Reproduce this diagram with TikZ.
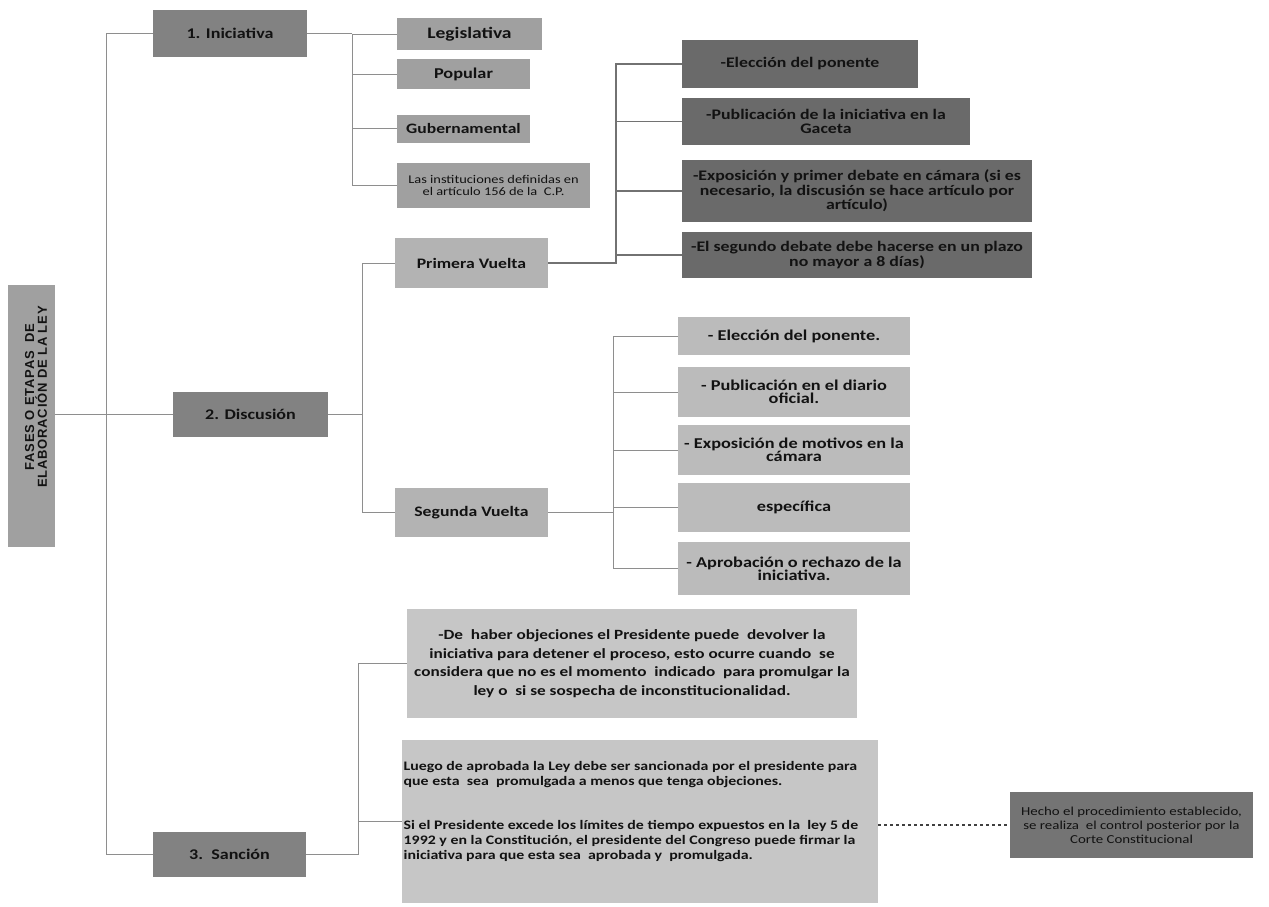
\documentclass[tikz,border=0pt]{standalone}
\usepackage{fontspec}
\newfontfamily\bx[FakeStretch=1.22]{Carlito}
\newfontfamily\rootfont[LetterSpace=6]{Liberation Sans}
\definecolor{lvlone}{HTML}{828282}
\definecolor{leaf}{HTML}{A0A0A0}
\definecolor{vuelta}{HTML}{B3B3B3}
\definecolor{pdark}{HTML}{6A6A6A}
\definecolor{slight}{HTML}{BBBBBB}
\definecolor{note}{HTML}{C6C6C6}
\definecolor{hecho}{HTML}{747474}
\definecolor{rootc}{HTML}{A0A0A0}
\definecolor{linec}{HTML}{8E8E8E}
\definecolor{ink}{HTML}{121212}
\tikzset{
  box/.style={rectangle, inner sep=0pt, align=center, text=ink, font=\bx\bfseries},
  conn/.style={draw=linec, line width=0.8pt},
  connd/.style={draw=linec!80!black, line width=1.2pt},
}
\begin{document}
\begin{tikzpicture}[x=1pt,y=-1pt]
\useasboundingbox (0,0) rectangle (1269,907);
\fill[white] (0,0) rectangle (1269,907);
% root
\node[rectangle, fill=rootc, minimum width=47pt, minimum height=262pt, inner sep=0pt] (root) at (31.5,416) {};
\node[rotate=90, align=center, inner sep=0pt, text=ink, font=\rootfont\bfseries\fontsize{13}{9}\selectfont] (roottxt) at (36,397) {FASES O ETAPAS\ \ DE\\ELABORACIÓN DE LA LEY};
% level one
\node[box, fill=lvlone, minimum width=154pt, minimum height=47pt, font=\bx\bfseries\fontsize{14.8}{15}\selectfont] (ini) at (230,33.5) {1. Iniciativa};
\node[box, fill=lvlone, minimum width=155pt, minimum height=45pt, font=\bx\bfseries\fontsize{14.8}{15}\selectfont] (disc) at (250.5,414.5) {2. Discusión};
\node[box, fill=lvlone, minimum width=153pt, minimum height=45pt, font=\bx\bfseries\fontsize{14.8}{15}\selectfont] (sanc) at (229.5,854.5) {3.\ \ Sanción};
% iniciativa children
\node[box, fill=leaf, minimum width=145pt, minimum height=32pt, font=\bx\bfseries\fontsize{16}{15}\selectfont] (leg) at (469.5,34) {Legislativa};
\node[box, fill=leaf, minimum width=133pt, minimum height=29pt, font=\bx\bfseries\fontsize{15}{15}\selectfont] (pop) at (463.5,74) {Popular};
\node[box, fill=leaf, minimum width=133pt, minimum height=28pt, font=\bx\bfseries\fontsize{14.4}{15}\selectfont] (gub) at (463.5,128.5) {Gubernamental};
\node[box, fill=leaf, minimum width=193pt, minimum height=45pt, font=\bx\fontsize{11.8}{12}\selectfont] (inst) at (493.5,185.5) {Las instituciones definidas en\\el artículo 156 de la\ \ C.P.};
% vueltas
\node[box, fill=vuelta, minimum width=153pt, minimum height=50pt, font=\bx\bfseries\fontsize{14.5}{15}\selectfont] (pv) at (471.5,263) {Primera Vuelta};
\node[box, fill=vuelta, minimum width=153pt, minimum height=49pt, font=\bx\bfseries\fontsize{14.5}{15}\selectfont] (sv) at (471.5,512.5) {Segunda Vuelta};
% primera vuelta children
\tikzset{pbox/.style={box, fill=pdark, font=\bx\bfseries\fontsize{14.6}{14.5}\selectfont}}
\node[pbox, minimum width=236pt, minimum height=48pt] (p1) at (800,64) {-Elección del ponente};
\node[pbox, minimum width=288pt, minimum height=47pt] (p2) at (826,121.5) {-Publicación de la iniciativa en la\\Gaceta};
\node[pbox, minimum width=350pt, minimum height=62pt] (p3) at (857,191) {-Exposición y primer debate en cámara (si es\\necesario, la discusión se hace artículo por\\artículo)};
\node[pbox, minimum width=350pt, minimum height=46pt] (p4) at (857,255) {-El segundo debate debe hacerse en un plazo\\no mayor a 8 días)};
% segunda vuelta children
\tikzset{sbox/.style={box, fill=slight, minimum width=232pt, font=\bx\bfseries\fontsize{15}{13}\selectfont}}
\node[sbox, minimum height=38pt] (s1) at (794,336) {- Elección del ponente.};
\node[sbox, minimum height=50pt] (s2) at (794,392) {- Publicación en el diario\\oficial.};
\node[sbox, minimum height=50pt] (s3) at (794,450) {- Exposición de motivos en la\\cámara};
\node[sbox, minimum height=49pt] (s4) at (794,507.5) {específica};
\node[sbox, minimum height=53pt] (s5) at (794,568.5) {- Aprobación o rechazo de la\\iniciativa.};
% sancion children
\node[box, fill=note, minimum width=450pt, minimum height=109pt, font=\bx\bfseries\fontsize{14.1}{18.5}\selectfont] (dh) at (632,663.5) {-De\ \ haber objeciones el Presidente puede\ \ devolver la\\iniciativa para detener el proceso, esto ocurre cuando\ \ se\\considera que no es el momento\ \ indicado\ \ para promulgar la\\ley o\ \ si se sospecha de inconstitucionalidad.};
\node[rectangle, inner sep=0pt, fill=note, minimum width=476pt, minimum height=163pt] (lu) at (640,821.5) {};
\node[anchor=west, align=left, inner sep=0pt, text=ink, font=\bx\bfseries\fontsize{13}{15}\selectfont] (lutxt) at (403.5,812) {Luego de aprobada la Ley debe ser sancionada por el presidente para\\que esta\ \ sea\ \ promulgada a menos que tenga objeciones.\\[29pt]Si el Presidente excede los límites de tiempo expuestos en la\ \ ley 5 de\\1992 y en la Constitución, el presidente del Congreso puede firmar la\\iniciativa para que esta sea\ \ aprobada y\ \ promulgada.};
\node[box, fill=hecho, minimum width=243pt, minimum height=66pt, font=\bx\fontsize{12.2}{14}\selectfont] (he) at (1131.5,825) {Hecho el procedimiento establecido,\\se realiza\ \ el control posterior por la\\Corte Constitucional};
% connectors
\coordinate (trunk) at (106,414.5);
\draw[conn] (root.east |- disc) -- (disc.west);
\draw[conn] (ini.west) -- (trunk |- ini) -- (trunk |- sanc) -- (sanc.west);
% iniciativa bus
\coordinate (ib) at (352,0);
\draw[conn] (ini.east) -- (ib |- ini);
\draw[conn] (ib |- leg) -- (ib |- inst);
\draw[conn] (ib |- leg) -- (leg.west);
\draw[conn] (ib |- pop) -- (pop.west);
\draw[conn] (ib |- gub) -- (gub.west);
\draw[conn] (ib |- inst) -- (inst.west);
% discusion bus
\coordinate (db) at (362,0);
\draw[conn] (disc.east) -- (db |- disc);
\draw[conn] (pv.west) -- (db |- pv) -- (db |- sv) -- (sv.west);
% primera bus
\coordinate (pb) at (616,0);
\draw[connd] (pv.east) -- (pb |- pv) -- (pb |- p1) -- (p1.west);
\draw[connd] (pb |- p2) -- (p2.west);
\draw[connd] (pb |- p3) -- (p3.west);
\draw[connd] (pb |- p4) -- (p4.west);
% segunda bus
\coordinate (sb) at (613,0);
\draw[conn] (sv.east) -- (sb |- sv);
\draw[conn] (s1.west) -- (sb |- s1) -- (sb |- s5) -- (s5.west);
\draw[conn] (sb |- s2) -- (s2.west);
\draw[conn] (sb |- s3) -- (s3.west);
\draw[conn] (sb |- s4) -- (s4.west);
% sancion bus
\coordinate (xb) at (358,0);
\draw[conn] (sanc.east) -- (xb |- sanc) -- (xb |- dh) -- (dh.west);
\draw[conn] (xb |- lu) -- (lu.west);
\draw[draw=black!75, line width=1.2pt, dashed] (lu.east |- he) -- (he.west);
\end{tikzpicture}
\end{document}
